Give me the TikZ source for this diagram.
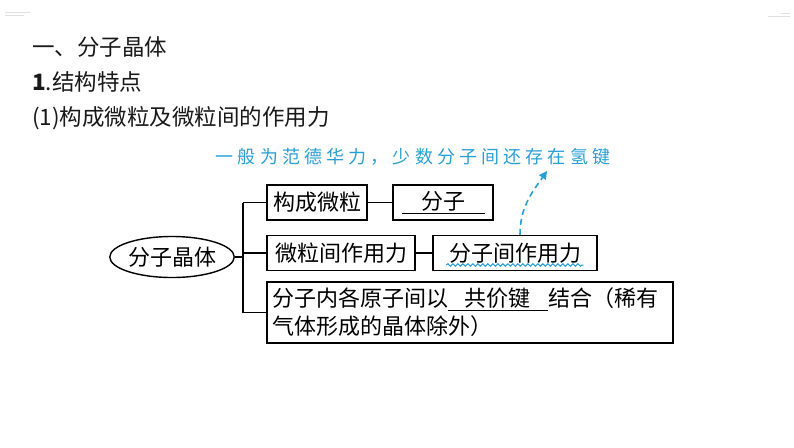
\documentclass[tikz,border=0pt]{standalone}
\usepackage{fontspec}
\setmainfont{Noto Sans CJK SC}
\newfontfamily\notefont[LetterSpace=23]{Noto Sans CJK SC}
\usetikzlibrary{shapes.geometric,decorations.pathmorphing,arrows.meta}
\definecolor{noteblue}{HTML}{2A9FD6}

\begin{document}
\begin{tikzpicture}[
x=1pt,y=-1pt,
font=\fontsize{22}{28}\selectfont,
title/.style={anchor=west,inner sep=0pt,text=black!90,font=\fontsize{22.5}{28}\selectfont},
crystal/.style={ellipse,draw,line width=1.4pt,minimum width=107pt,minimum height=41pt,inner sep=0pt},
item/.style={rectangle,draw,line width=1.4pt,minimum height=35pt,inner sep=3pt},
answer/.style={rectangle,draw,line width=1.4pt,minimum height=35pt,inner sep=3pt},
branch/.style={line width=1.4pt},
hint/.style={text=noteblue,font=\notefont\fontsize{18}{20}\selectfont},
note/.style={-{Triangle[length=8pt,width=8pt]},line width=1.6pt,dash pattern=on 6pt off 4pt,draw=noteblue},
wave/.style={draw=noteblue,line width=1pt,decorate,decoration={snake,amplitude=1.2pt,segment length=5pt}},
]
\useasboundingbox (0,0) rectangle (794,447);

% Slide corner marks
\draw[black!12] (5,12) -- (30,12) (5,15) -- (24,15);
\draw[black!12] (768,16) -- (790,16) (781,13) -- (790,13);

% Headings
\node[title] (t1) at (32,47) {一、分子晶体};
\node[title] (t2) at (32,82) {\textbf{1}.结构特点};
\node[title] (t3) at (32,118) {(1)构成微粒及微粒间的作用力};

% Map
\node[crystal] (fzjt) at (172,257) {分子晶体};
\node[item,minimum width=100pt] (gcwl) at (317,202.5) {构成微粒};
\node[answer,minimum width=100pt] (fz) at (443,202.5) {\underline{\makebox[83pt]{分子}}};
\node[item,minimum width=148pt] (wljzyl) at (341,253) {微粒间作用力};
\node[answer,minimum width=164pt] (fzjzyl) at (515,253) {分子间作用力};
\node[item,minimum width=406pt,minimum height=61pt,text width=396pt,align=left] (fznb) at (470,312.5)
  {分子内各原子间以\underline{\makebox[100pt]{共价键}}结合（稀有\\气体形成的晶体除外）};

% Branches
\coordinate (trunk) at (243,257);
\draw[branch] (fzjt) -- (trunk);
\draw[branch] (trunk |- gcwl) -- (trunk |- fznb);
\draw[branch] (trunk |- gcwl) -- (gcwl);
\draw[branch] (trunk |- wljzyl) -- (wljzyl);
\draw[branch] (trunk |- fznb) -- (fznb);
\draw[branch] (gcwl) -- (fz);
\draw[branch] (wljzyl) -- (fzjzyl);

% Teacher's note
\draw[wave] ([shift={(14,12)}]fzjzyl.west) -- ([shift={(-14,12)}]fzjzyl.east);
\node[hint] (vdw) at (413,157) {一般为范德华力，少数分子间还存在氢键};
\coordinate (tip) at (547,171);
\draw[note] ([xshift=5]fzjzyl.north) to[out=90,in=-125] (tip);
\end{tikzpicture}
\end{document}
